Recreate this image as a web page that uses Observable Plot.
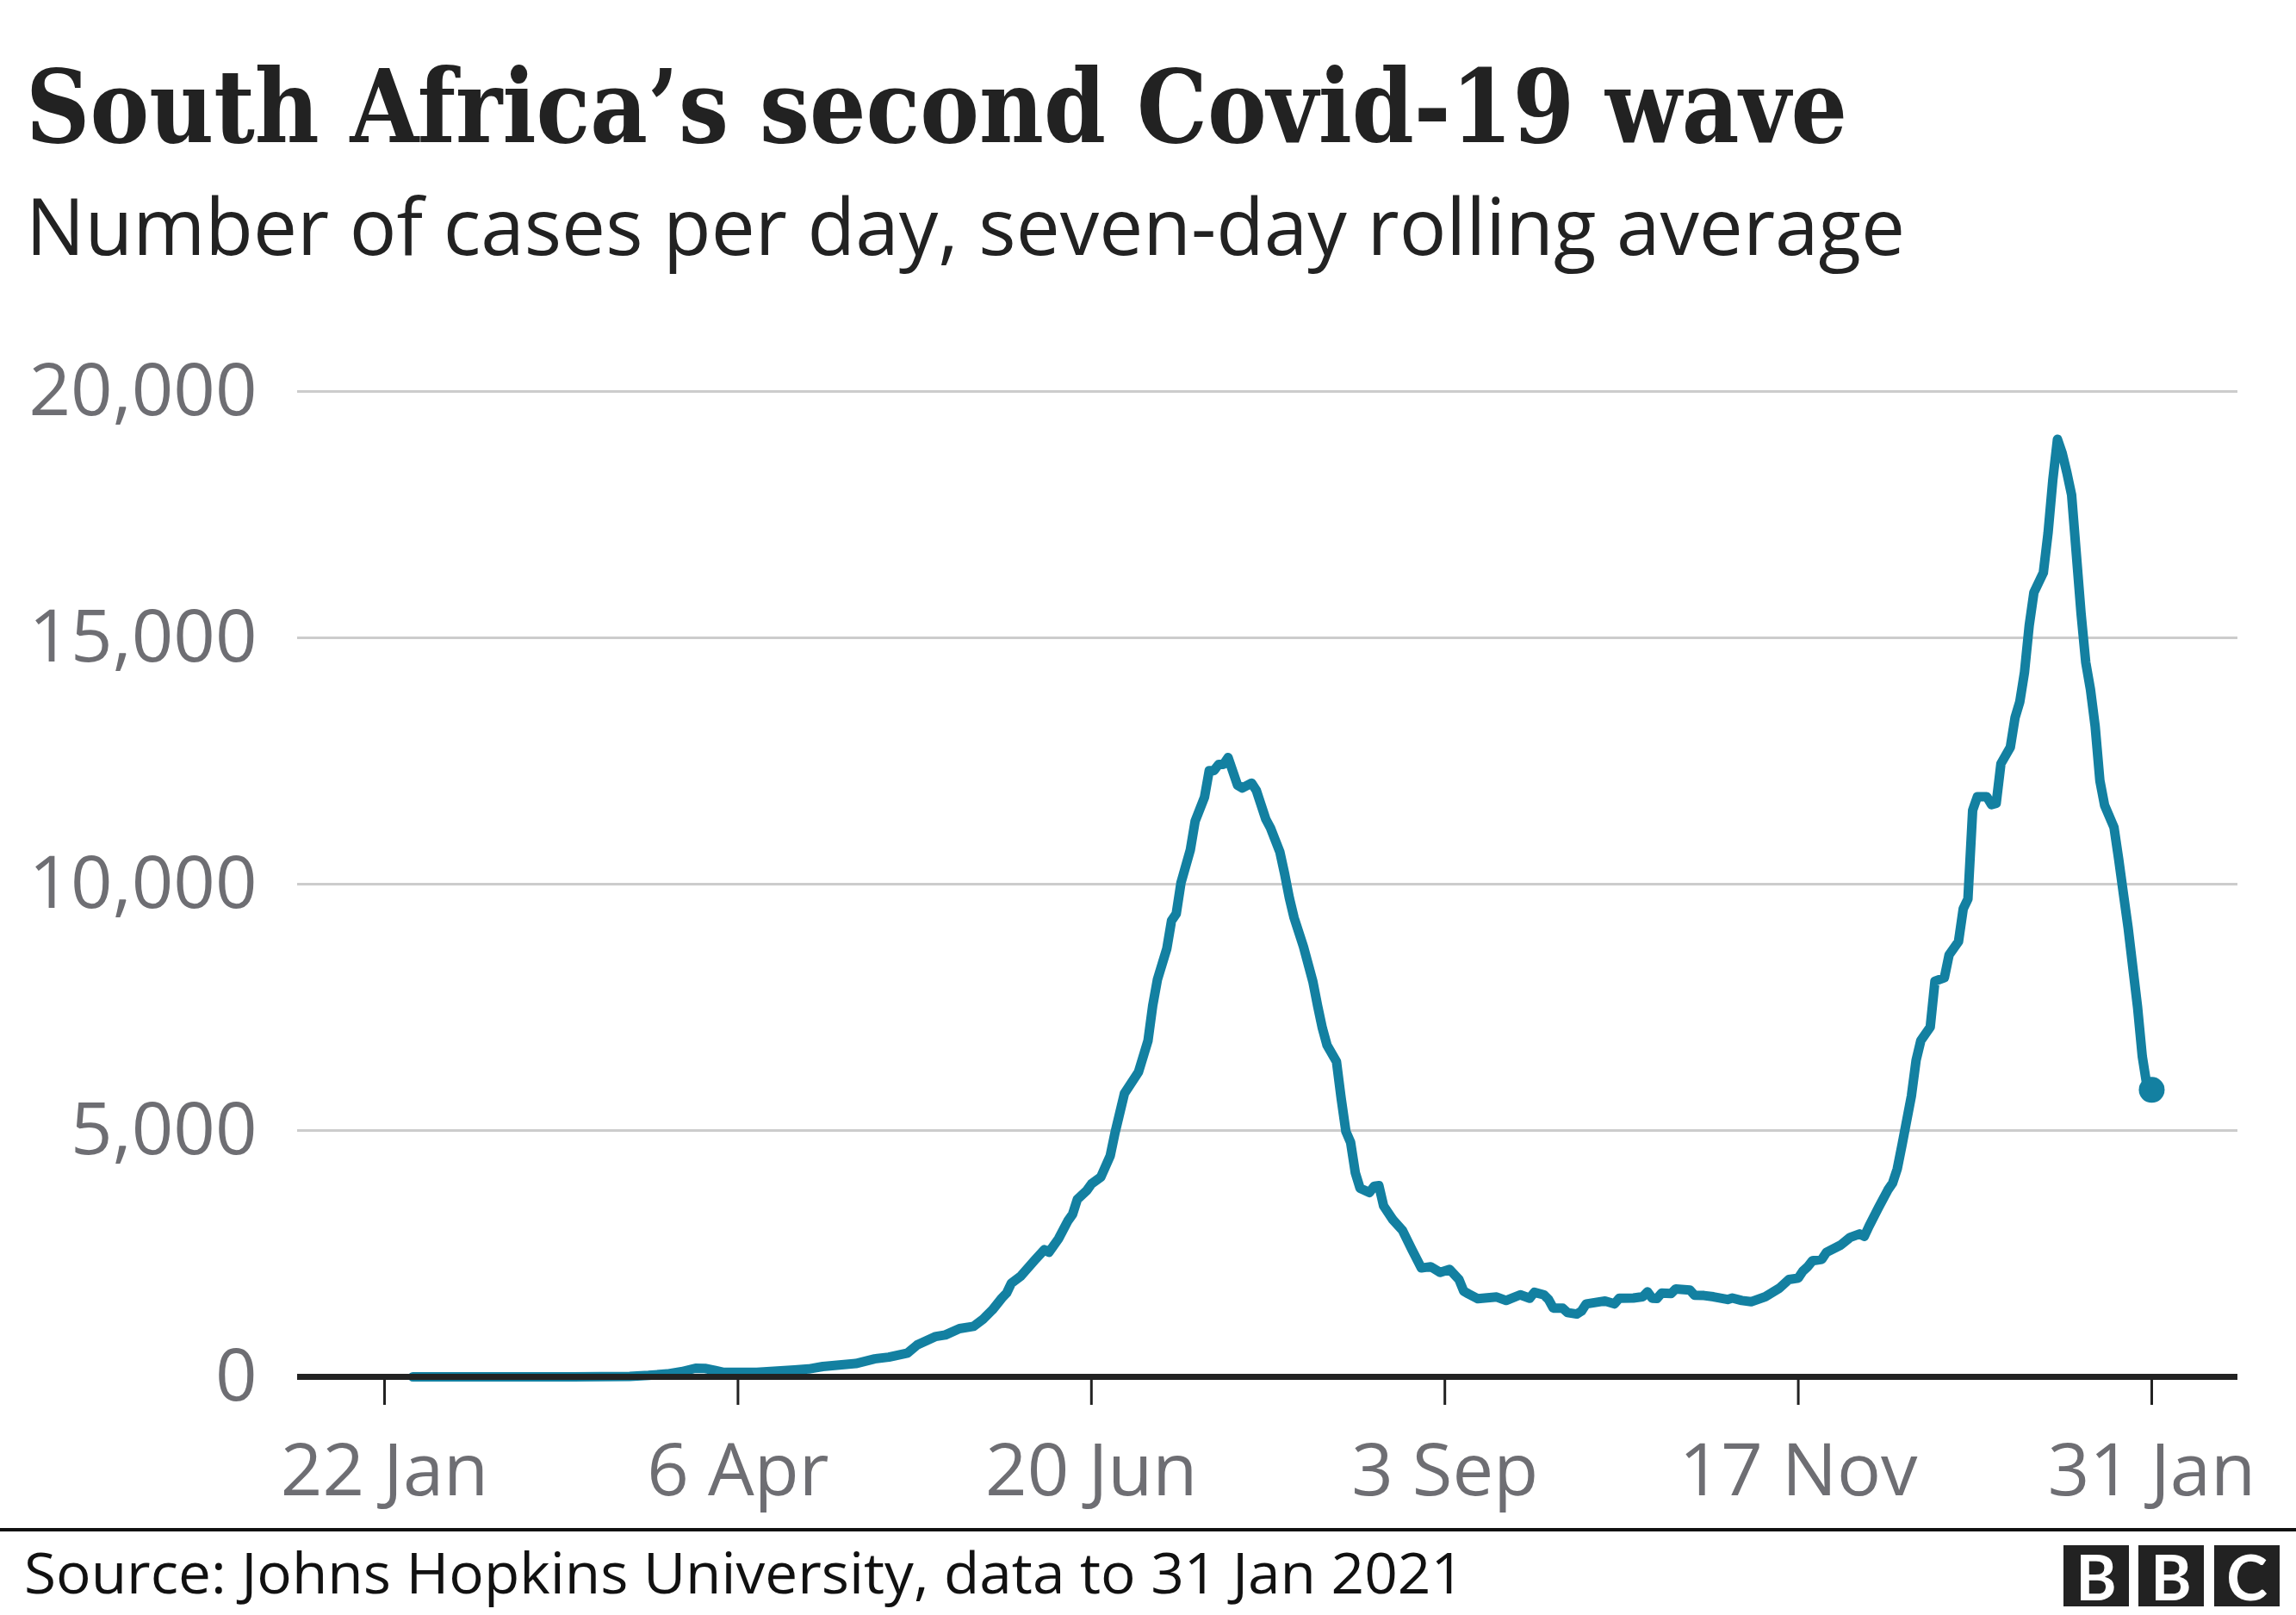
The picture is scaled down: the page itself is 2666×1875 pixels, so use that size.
<!DOCTYPE html>
<html>
<head>
<meta charset="utf-8">
<script src="https://cdn.jsdelivr.net/npm/d3@7"></script>
<script src="https://cdn.jsdelivr.net/npm/@observablehq/plot@0.6"></script>
<style>
  html, body { margin: 0; padding: 0; background: #fff; }
  #wrap { position: relative; width: 2666px; height: 1875px; overflow: hidden; background: #fff; }
  .t { position: absolute; left: 0; top: 0; white-space: nowrap; transform-origin: 0 0; line-height: 1; color: #222; }
  #title { font-family: "DejaVu Serif", serif; font-weight: 700; font-size: 117px; }
  #subtitle { font-family: "Open Sans", sans-serif; font-weight: 400; font-size: 91px; }
  #source { font-family: "Open Sans", sans-serif; font-weight: 400; font-size: 66px; color: #111; }
  #chart { position: absolute; left: 0; top: 380px; }
  #rule { position: absolute; left: 0; top: 1774px; width: 2666px; height: 4px; background: #111; }
  .bbc { position: absolute; top: 1794px; width: 76px; height: 71px; background: #222; color: #fff;
         font-family: "Lato", "Liberation Sans", sans-serif; font-weight: 700; font-size: 72px;
         display: flex; align-items: center; justify-content: center; line-height: 1; }
</style>
</head>
<body>
<div id="wrap">
  <div id="title" class="t">South Africa’s second Covid-19 wave</div>
  <div id="subtitle" class="t">Number of cases per day, seven-day rolling average</div>
  <div id="chart"></div>
  <div id="rule"></div>
  <div id="source" class="t">Source: Johns Hopkins University, data to 31 Jan 2021</div>
  <div class="bbc" style="left:2396px">B</div>
  <div class="bbc" style="left:2483px">B</div>
  <div class="bbc" style="left:2571px">C</div>
</div>
<script>
// ---- data ----
const dates = [
  "2020-01-28","2020-03-02","2020-03-14","2020-03-18","2020-03-22","2020-03-25","2020-03-28","2020-03-30",
  "2020-04-01","2020-04-03","2020-04-10","2020-04-18","2020-04-21","2020-04-24","2020-04-27",
  "2020-05-01","2020-05-05","2020-05-08","2020-05-12","2020-05-14","2020-05-18","2020-05-20","2020-05-23",
  "2020-05-26","2020-05-28","2020-05-30",
  "2020-06-01","2020-06-02","2020-06-03","2020-06-05","2020-06-08","2020-06-10","2020-06-11","2020-06-13",
  "2020-06-15","2020-06-16","2020-06-17","2020-06-19","2020-06-20","2020-06-22","2020-06-24","2020-06-25",
  "2020-06-27","2020-06-30",
  "2020-07-02","2020-07-03","2020-07-04","2020-07-06","2020-07-07","2020-07-08","2020-07-09","2020-07-11",
  "2020-07-12","2020-07-14","2020-07-15","2020-07-16","2020-07-17","2020-07-18","2020-07-19","2020-07-21",
  "2020-07-22","2020-07-24","2020-07-25","2020-07-27","2020-07-28","2020-07-30","2020-07-31",
  "2020-08-01","2020-08-02","2020-08-04","2020-08-06","2020-08-07","2020-08-08","2020-08-09","2020-08-11",
  "2020-08-12","2020-08-13","2020-08-14","2020-08-15","2020-08-16","2020-08-18","2020-08-19","2020-08-20",
  "2020-08-21","2020-08-23","2020-08-25","2020-08-27","2020-08-29","2020-08-31",
  "2020-09-02","2020-09-04","2020-09-06","2020-09-07","2020-09-08","2020-09-10","2020-09-14","2020-09-16",
  "2020-09-19","2020-09-21","2020-09-22","2020-09-24","2020-09-25","2020-09-26","2020-09-28","2020-09-29",
  "2020-10-01","2020-10-02","2020-10-03","2020-10-05","2020-10-07","2020-10-09","2020-10-10","2020-10-13",
  "2020-10-15","2020-10-16","2020-10-17","2020-10-18","2020-10-19","2020-10-21","2020-10-22","2020-10-25",
  "2020-10-26","2020-10-28","2020-10-30",
  "2020-11-02","2020-11-03","2020-11-05","2020-11-07","2020-11-10","2020-11-13","2020-11-15","2020-11-17",
  "2020-11-18","2020-11-19","2020-11-20","2020-11-22","2020-11-23","2020-11-26","2020-11-28","2020-11-30",
  "2020-12-01","2020-12-02","2020-12-04","2020-12-06","2020-12-07","2020-12-08","2020-12-09","2020-12-11",
  "2020-12-12","2020-12-13","2020-12-15","2020-12-16","2020-12-18","2020-12-19","2020-12-21","2020-12-22",
  "2020-12-23","2020-12-24","2020-12-25","2020-12-27","2020-12-28","2020-12-29","2020-12-30",
  "2021-01-01","2021-01-02","2021-01-03","2021-01-04","2021-01-05","2021-01-06","2021-01-08","2021-01-09",
  "2021-01-10","2021-01-11","2021-01-12","2021-01-13","2021-01-14","2021-01-15","2021-01-16","2021-01-17",
  "2021-01-18","2021-01-19","2021-01-20","2021-01-21","2021-01-23","2021-01-24","2021-01-25","2021-01-26",
  "2021-01-27","2021-01-28","2021-01-29","2021-01-30","2021-01-31"
];
const cases = [
  0,0,10,30,60,105,175,170,
  134,90,90,140,160,210,235,
  270,365,400,485,645,820,850,980,
  1025,1170,1360,
  1600,1700,1900,2045,2370,2580,2530,2800,
  3165,3300,3600,3780,3915,4055,4490,4950,
  5750,6190,
  6820,7530,8060,8690,9260,9400,10025,10700,
  11275,11765,12305,12305,12430,12430,12570,12010,
  11950,12050,11900,11320,11140,10650,10210,
  9720,9320,8730,8020,7530,7080,6730,6400,
  5650,4980,4760,4140,3830,3740,3870,3880,
  3470,3185,2975,2585,2210,2235,
  2120,2180,1975,1740,1685,1585,1620,1550,
  1665,1595,1715,1665,1570,1395,1395,1305,
  1275,1335,1480,1510,1540,1480,1595,1600,
  1625,1725,1595,1590,1700,1690,1785,1760,
  1655,1650,1625,
  1570,1600,1550,1525,1625,1800,1975,2005,
  2150,2235,2355,2385,2530,2675,2830,2900,
  2850,3055,3430,3790,3930,4220,4700,5700,
  6425,6825,7100,8030,8100,8565,8835,9500,
  9700,11500,11775,11775,11615,11640,12445,
  12780,13380,13700,14300,15250,15920,16320,17125,
  18195,19030,18750,18350,17900,16700,15500,14500,
  13950,13200,12100,11600,11150,10500,9800,9110,
  8300,7500,6500,5900,5825
];
const xTickDates = ["2020-01-22","2020-04-06","2020-06-20","2020-09-03","2020-11-17","2021-01-31"];
const yTicks = [0, 5000, 10000, 15000, 20000];

// ---- build ----
const parse = s => new Date(s + "T00:00:00Z");
const data = dates.map((d, i) => ({date: parse(d), cases: cases[i]}));
const last = [data[data.length - 1]];
const DAY = 864e5;
const xDomain = [new Date(parse(xTickDates[0]).getTime() - 18.46 * DAY),
                 new Date(parse(xTickDates[xTickDates.length - 1]).getTime() + 18.28 * DAY)];

const chart = Plot.plot({
  width: 2666,
  height: 1380,
  marginLeft: 345,
  marginRight: 68,
  marginTop: 74,
  marginBottom: 162,
  style: {fontFamily: "'Open Sans', sans-serif", fontSize: "85px", background: "transparent", overflow: "visible"},
  x: {type: "utc", domain: xDomain},
  y: {domain: [0, 20000]},
  marks: [
    Plot.ruleY(yTicks.filter(v => v > 0), {stroke: "#cccccc", strokeWidth: 3}),
    Plot.axisY({ticks: yTicks, tickFormat: d3.format(","), tickSize: 0, tickPadding: 47,
                fill: "#6e6e73", label: null}),
    Plot.axisX({ticks: xTickDates.map(parse), tickFormat: d3.utcFormat("%-d %b"), tickSize: 33,
                tickPadding: 44, stroke: "#222", strokeWidth: 3, fill: "#6e6e73", label: null}),
    Plot.line(data, {x: "date", y: "cases", stroke: "#1380A1", strokeWidth: 11,
                     strokeLinejoin: "round", strokeLinecap: "round"}),
    Plot.ruleY([0], {stroke: "#222", strokeWidth: 7}),
    Plot.dot(last, {x: "date", y: "cases", r: 15, fill: "#1380A1", stroke: null})
  ]
});
document.getElementById("chart").appendChild(chart);

// ---- place html texts by baseline & fit width ----
function place(id, left, baseline, targetW) {
  const el = document.getElementById(id);
  el.style.transform = "none";
  el.style.left = left + "px";
  el.style.top = "0px";
  const probe = document.createElement("span");
  probe.style.cssText = "display:inline-block;width:0;height:0;vertical-align:baseline;";
  el.appendChild(probe);
  const r = el.getBoundingClientRect();
  const pr = probe.getBoundingClientRect();
  const base = pr.top - r.top;
  el.removeChild(probe);
  el.style.top = (baseline - base) + "px";
  if (targetW) el.style.transform = "scaleX(" + (targetW / r.width) + ")";
}
function layout() {
  place("title", 30, 165, 2115);
  place("subtitle", 30, 296, 2182);
  place("source", 28, 1850, 1672);
}
layout();
if (document.fonts && document.fonts.ready) document.fonts.ready.then(layout);
</script>
</body>
</html>
